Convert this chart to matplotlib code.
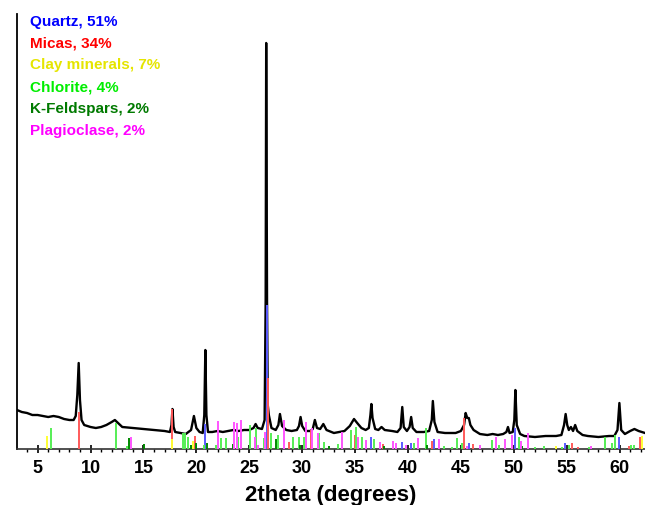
import matplotlib.pyplot as plt
from matplotlib.ticker import MultipleLocator

# measured XRD trace (2theta in degrees, intensity in arbitrary units)
TWO_THETA = [
    3.05, 3.5, 4.0, 4.5, 5.0, 5.5, 6.0, 6.5, 7.0, 7.5, 8.0, 8.4, 8.6, 8.75, 8.88,
    9.0, 9.15, 9.4, 10.0, 10.5, 11.0, 11.5, 12.0, 12.3, 12.6, 13.0, 14.0, 15.0,
    16.0, 17.0, 17.5, 17.65, 17.74, 17.85, 18.0, 18.5, 19.0, 19.5, 19.77, 20.0,
    20.3, 20.6, 20.75, 20.85, 20.95, 21.1, 21.5, 22.0, 22.5, 23.0, 23.5, 24.0,
    24.5, 25.0, 25.4, 25.6, 25.8, 26.2, 26.45, 26.55, 26.6, 26.68, 26.75, 26.85,
    27.1, 27.5, 27.75, 27.9, 28.1, 28.5, 29.0, 29.5, 29.7, 29.85, 30.0, 30.3,
    30.8, 31.0, 31.2, 31.4, 31.7, 32.0, 32.3, 33.0, 33.5, 34.0, 34.5, 34.9, 35.2,
    35.6, 36.0, 36.3, 36.45, 36.54, 36.65, 36.9, 37.2, 37.5, 37.8, 38.5, 39.0,
    39.3, 39.46, 39.6, 39.9, 40.15, 40.3, 40.45, 40.8, 41.5, 42.0, 42.25, 42.35,
    42.5, 42.8, 43.5, 44.0, 44.5, 45.0, 45.3, 45.45, 45.6, 45.75, 45.9, 46.2,
    46.8, 47.5, 48.0, 48.5, 49.0, 49.3, 49.45, 49.6, 49.9, 50.05, 50.15, 50.28,
    50.6, 51.0, 52.0, 53.0, 54.0, 54.5, 54.75, 54.9, 55.05, 55.2, 55.4, 55.6,
    55.8, 56.0, 56.5, 57.0, 58.0, 59.0, 59.5, 59.8, 59.98, 60.15, 60.5, 61.0,
    61.4, 61.8, 62.4,
]
INTENSITY = [
    39, 37, 36, 34, 34, 33, 32, 33, 32, 30, 29, 29, 33, 54, 86,
    49, 29, 24, 22, 21, 22, 24, 27, 29, 26, 22, 21, 20,
    19, 18, 17, 24, 40, 22, 17, 16, 15, 19, 33, 21,
    17, 16, 34, 99, 34, 17, 17, 18, 17, 18, 19, 18,
    19, 19, 21, 25, 21, 20, 29, 149, 406, 149, 44, 34,
    21, 19, 24, 35, 23, 19, 18, 19, 23, 32, 23, 18,
    18, 20, 29, 21, 20, 25, 19, 16, 17, 18, 23, 30, 26,
    21, 19, 21, 34, 45, 31, 20, 19, 22, 19, 18, 17,
    21, 42, 22, 18, 22, 32, 21, 17, 17, 18, 29, 48,
    27, 17, 16, 16, 16, 18, 24, 36, 31, 31, 24, 19,
    15, 14, 15, 14, 15, 17, 22, 16, 17, 29, 59, 24,
    15, 13, 12, 13, 13, 14, 24, 35, 24, 19, 22, 18,
    24, 18, 14, 13, 12, 13, 13, 19, 46, 19, 15, 18,
    20, 18, 16,
]

# reference patterns (stick positions and relative heights)
QUARTZ_POS = [20.85, 26.64, 36.54, 39.45, 40.28, 42.42, 45.72, 50.1, 54.85, 59.96]
QUARTZ_H = [25, 144, 12, 7, 6, 10, 6, 21, 6, 12]

MICAS_POS = [8.9, 17.73, 19.84, 26.8, 28.73, 30.85, 35.0, 37.6, 42.26, 45.31,
             46.16, 55.5, 56.1, 60.85, 61.97]
MICAS_H = [37, 40, 13, 71, 7, 19, 14, 5, 8, 31, 5, 6, 2, 3, 12]

CLAY_POS = [5.9, 17.72, 19.7, 35.1, 54.0, 62.07]
CLAY_H = [13, 10, 8, 4, 3, 13]

CHLORITE_POS = [6.22, 12.44, 13.4, 18.74, 18.9, 19.2, 20.69, 21.9, 22.36, 22.83,
                23.9, 25.1, 25.65, 26.4, 27.06, 27.7, 29.1, 29.7, 30.2, 31.6,
                32.1, 33.36, 33.8, 34.6, 35.06, 35.7, 36.8, 40.6, 41.73, 43.42,
                44.2, 44.68, 45.15, 47.9, 48.6, 50.5, 52.0, 52.9, 54.55, 55.2,
                57.1, 58.58, 59.3, 59.6, 61.1, 61.4]
CHLORITE_H = [21, 26, 3, 16, 16, 12, 4, 4, 11, 11,
              12, 24, 21, 11, 16, 14, 12, 12, 12, 16,
              7, 5, 12, 19, 22, 12, 10, 6, 21, 3,
              2, 11, 6, 9, 4, 12, 2, 3, 2, 4,
              2, 12, 6, 14, 4, 4]

KFELD_POS = [13.64, 15.03, 19.5, 20.0, 21.0, 23.5, 27.5, 29.8, 32.5, 37.7, 41.8, 50.8]
KFELD_H = [11, 5, 4, 6, 6, 5, 10, 4, 3, 3, 4, 3]

PLAG_POS = [13.87, 22.04, 23.6, 23.83, 24.24, 25.5, 25.8, 26.45, 28.25, 30.38,
            30.94, 31.45, 33.8, 35.3, 36.0, 37.4, 38.55, 38.87, 39.8, 40.9,
            42.89, 45.57, 46.82, 48.3, 49.18, 49.8, 50.72, 51.3, 57.3]
PLAG_H = [12, 28, 27, 26, 29, 12, 4, 17, 29, 27,
          21, 16, 17, 12, 9, 7, 8, 6, 4, 11,
          10, 3, 4, 12, 10, 14, 8, 16, 3]

LABELS = ["Quartz, 51%", "Micas, 34%", "Clay minerals, 7%", "Chlorite, 4%",
          "K-Feldspars, 2%", "Plagioclase, 2%"]
TEXT_COLORS = ["#0000ff", "#ff0000", "#e5e500", "#00ee00", "#007a00", "#ff00ff"]
STICK_COLORS = ["#5a5aff", "#ff5a5a", "#ffff33", "#55ee55", "#008800", "#ff55ff"]

plt.rcParams["font.family"] = ["Liberation Sans", "DejaVu Sans"]
plt.rcParams["font.weight"] = "bold"

fig = plt.figure(figsize=(6.45, 5.05), dpi=100)
ax = fig.add_axes([17 / 645, 56 / 505, 628 / 645, 435 / 505])

ax.plot(TWO_THETA, INTENSITY, color="black", linewidth=1.7, zorder=2)

phases = [
    (QUARTZ_POS, QUARTZ_H),
    (MICAS_POS, MICAS_H),
    (CLAY_POS, CLAY_H),
    (CHLORITE_POS, CHLORITE_H),
    (KFELD_POS, KFELD_H),
    (PLAG_POS, PLAG_H),
]
for (pos, h), col in zip(phases, STICK_COLORS):
    ax.vlines(pos, 0, h, colors=col, linewidth=1.4, zorder=3)

ax.set_xlim(3.05, 62.4)
ax.set_ylim(0, 435)
ax.set_yticks([])
ax.set_xticks(range(5, 61, 5))
ax.xaxis.set_minor_locator(MultipleLocator(1))
ax.tick_params(axis="x", which="major", direction="inout", length=6, width=1.2,
               pad=5, labelsize=13)
ax.tick_params(axis="x", which="minor", direction="out", length=2.5, width=1.0)
for lab in ax.get_xticklabels():
    lab.set_fontweight("bold")

ax.spines["top"].set_visible(False)
ax.spines["right"].set_visible(False)
ax.spines["left"].set_linewidth(1.3)
ax.spines["bottom"].set_linewidth(1.2)
ax.spines["bottom"].set_color("#333333")

ax.set_xlabel("2theta (degrees)", fontsize=16, fontweight="bold", labelpad=6)

# composition labels, top left
for i, (txt, col) in enumerate(zip(LABELS, TEXT_COLORS)):
    fig.text(30 / 645, 1 - (21.7 + 21.8 * i) / 505, txt, color=col,
             fontsize=11, fontweight="bold", va="center", ha="left")

fig.savefig("out.png", dpi=100)
